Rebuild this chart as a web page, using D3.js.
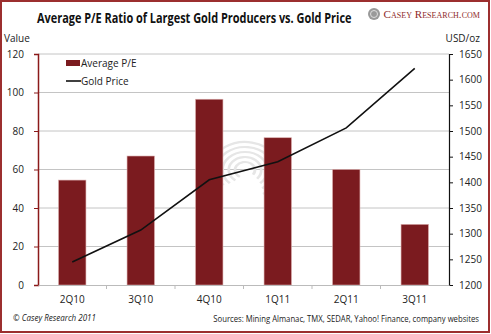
<!DOCTYPE html>
<html>
<head>
<meta charset="utf-8">
<script src="https://cdn.jsdelivr.net/npm/d3@7"></script>
<style>
  body { margin: 0; background: #fff; }
  svg text { font-family: "Open Sans", "Liberation Sans", sans-serif; }
</style>
</head>
<body>
<div id="chart"></div>
<script>
// data
var quarters = ["2Q10", "3Q10", "4Q10", "1Q11", "2Q11", "3Q11"];
var avgPE = [54.5, 67, 96.5, 76.5, 60, 31.5];
var goldPrice = [1245, 1307, 1405, 1440, 1506, 1622];
var peTicks = [0, 20, 40, 60, 80, 100, 120];
var goldTicks = [1200, 1250, 1300, 1350, 1400, 1450, 1500, 1550, 1600, 1650];

var W = 491, H = 334;
var margin = {top: 54, right: 42, bottom: 49, left: 38},
    width = W - margin.left - margin.right,
    height = H - margin.top - margin.bottom;

var barColor = "#7b1b1f";
var frameColor = "#9c2f2f";

var svg = d3.select("#chart")
  .append("svg")
    .attr("width", W)
    .attr("height", H);

// squeeze a text horizontally so that it spans w pixels starting at x (or ending at x)
function fitText(t, x, y, w, anchor) {
  t.attr("x", 0).attr("y", 0).attr("text-anchor", anchor || "start");
  var k = w / t.node().getComputedTextLength();
  t.attr("transform", "translate(" + x + "," + y + ") scale(" + k + ",1)");
}

// outer frame
svg.append("rect")
  .attr("x", 1).attr("y", 1)
  .attr("width", W - 3).attr("height", H - 3)
  .attr("fill", "#fff")
  .attr("stroke", frameColor)
  .attr("stroke-width", 2);

// title
var title = svg.append("text")
  .style("font-size", "13.5px")
  .style("font-weight", "bold")
  .attr("fill", "#111")
  .text("Average P/E Ratio of Largest Gold Producers vs. Gold Price");
fitText(title, 37, 23, 315);

// logo
var logo = svg.append("g").attr("transform", "translate(374,14)");
logo.append("circle").attr("r", 6).attr("fill", "#999");
logo.append("circle").attr("r", 3.5).attr("fill", "none").attr("stroke", "#ddd").attr("stroke-width", 1);
var logoText = svg.append("text")
  .style("font-family", "'Liberation Serif', serif")
  .style("font-size", "11px")
  .style("font-variant", "small-caps")
  .attr("fill", "#8f2a2a")
  .text("Casey Research.com");
fitText(logoText, 480, 18, 97, "end");

// axis captions
svg.append("text").attr("x", 4).attr("y", 42)
  .style("font-size", "10px").attr("fill", "#222").text("Value");
svg.append("text").attr("x", 480).attr("y", 42).attr("text-anchor", "end")
  .style("font-size", "10px").attr("fill", "#222").text("USD/oz");

var g = svg.append("g")
  .attr("transform", "translate(" + margin.left + "," + margin.top + ")");

// scales
var x = d3.scaleBand()
  .domain(quarters)
  .range([0, width])
  .paddingInner(0.6)
  .paddingOuter(0.3);

var y = d3.scaleLinear().domain([0, 120]).range([height, 0]);
var y2 = d3.scaleLinear().domain([1200, 1650]).range([height, 0]);

// gridlines
g.append("g")
  .selectAll("line")
  .data(peTicks.slice(1))
  .join("line")
    .attr("x1", 0).attr("x2", width)
    .attr("y1", d => y(d)).attr("y2", d => y(d))
    .attr("stroke", "#c4c4c4")
    .attr("stroke-width", 1);

// watermark swirl
var wm = g.append("g").attr("transform", "translate(" + (245 - margin.left) + "," + (170 - margin.top) + ")")
  .attr("fill", "none").attr("stroke", "#e6e6e6").attr("stroke-width", 2.2);
[8, 13, 18, 23, 28].forEach(function (r, i) {
  var arc = d3.arc().innerRadius(r).outerRadius(r).startAngle(-2.6 + i * 0.1).endAngle(2.2 + i * 0.1);
  wm.append("path").attr("d", arc()).attr("transform", "scale(1.25,1)");
});

// bars
g.append("g")
  .selectAll("rect")
  .data(avgPE)
  .join("rect")
    .attr("x", (d, i) => x(quarters[i]))
    .attr("y", d => y(d))
    .attr("width", x.bandwidth())
    .attr("height", d => height - y(d))
    .attr("fill", barColor)
    .attr("stroke", "#d9aaaa")
    .attr("stroke-width", 0.6);

// gold price line
var line = d3.line()
  .x((d, i) => x(quarters[i]) + x.bandwidth() / 2)
  .y(d => y2(d));
g.append("path")
  .datum(goldPrice)
  .attr("d", line)
  .attr("fill", "none")
  .attr("stroke", "#111")
  .attr("stroke-width", 1.6);

// left axis
var yAxis = g.append("g")
  .call(d3.axisLeft(y).tickValues(peTicks).tickSize(4).tickPadding(10));
yAxis.select(".domain").attr("stroke", "#8b1a1a").attr("stroke-width", 1.5);
yAxis.selectAll(".tick line").attr("stroke", "#8b1a1a");
yAxis.selectAll("text").style("font-size", "10px").attr("fill", "#222")
  .style("font-family", "'Open Sans', sans-serif");

// right axis
var y2Axis = g.append("g")
  .attr("transform", "translate(" + width + ",0)")
  .call(d3.axisRight(y2).tickValues(goldTicks).tickFormat(d3.format("d")).tickSize(4).tickPadding(6));
y2Axis.select(".domain").attr("stroke", "#111").attr("stroke-width", 1.2);
y2Axis.selectAll(".tick line").attr("stroke", "#111");
y2Axis.selectAll("text").style("font-size", "10px").attr("fill", "#222")
  .style("font-family", "'Open Sans', sans-serif");

// bottom axis
var xAxis = g.append("g")
  .attr("transform", "translate(0," + height + ")")
  .call(d3.axisBottom(x).tickSize(0).tickPadding(11));
xAxis.select(".domain").attr("stroke", "#bbb");
xAxis.selectAll("text").style("font-size", "10px").attr("fill", "#222")
  .style("font-family", "'Open Sans', sans-serif");
// category separators
g.append("g")
  .selectAll("line")
  .data(d3.range(1, quarters.length))
  .join("line")
    .attr("x1", d => d * width / quarters.length)
    .attr("x2", d => d * width / quarters.length)
    .attr("y1", height).attr("y2", height + 4)
    .attr("stroke", "#bbb");

// legend
var legend = g.append("g").attr("transform", "translate(28,10)");
legend.append("rect").attr("x", 0).attr("y", -4).attr("width", 14).attr("height", 6).attr("fill", barColor);
legend.append("text").attr("x", 15).attr("y", 3).style("font-size", "10px").attr("fill", "#222").text("Average P/E");
legend.append("line").attr("x1", 0).attr("x2", 15).attr("y1", 17).attr("y2", 17).attr("stroke", "#111").attr("stroke-width", 1.6);
legend.append("text").attr("x", 15).attr("y", 21).style("font-size", "10px").attr("fill", "#222").text("Gold Price");

// footer
var copy = svg.append("text")
  .style("font-size", "9.5px").style("font-style", "italic").attr("fill", "#222")
  .text("\u00a9 Casey Research 2011");
fitText(copy, 13, 321, 83);
var sources = svg.append("text")
  .style("font-size", "9.5px").attr("fill", "#222")
  .text("Sources: Mining Almanac, TMX, SEDAR, Yahoo! Finance, company websites");
fitText(sources, 479, 322, 266, "end");
</script>
</body>
</html>
